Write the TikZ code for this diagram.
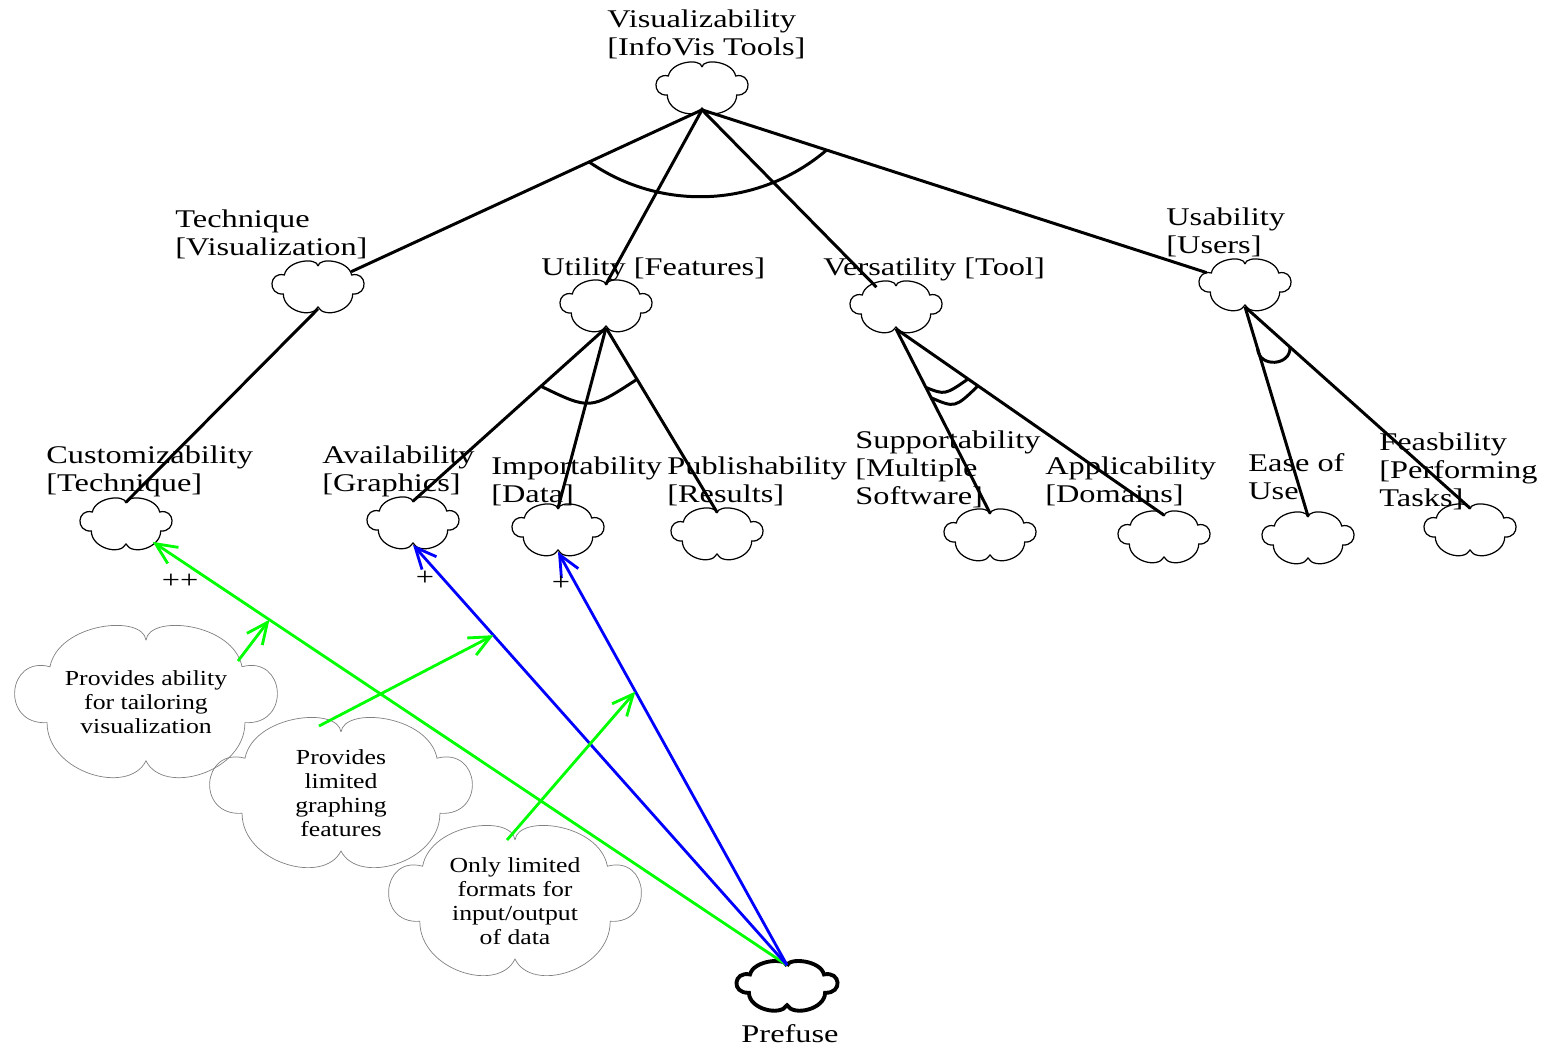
\documentclass[tikz,border=0pt]{standalone}
\usepackage{fontspec}
\setmainfont{Liberation Serif}[FakeStretch=1.2]
\newfontfamily\sglabelfont{Liberation Serif}[FakeStretch=1.27]
\usetikzlibrary{shapes.geometric,arrows.meta,calc}

\definecolor{helpgreen}{RGB}{0,255,0}
\definecolor{helpblue}{RGB}{0,0,255}

\tikzset{
  pics/cloudline/.style={code={
    \path[pic actions] (0,-21) .. controls (-1,-30) and (-30,-27) .. (-33,-12)
      .. controls (-48,-16) and (-50,8) .. (-34,7)
      .. controls (-34,24) and (-6,32) .. (0,20)
      .. controls (6,32) and (34,24) .. (34,7)
      .. controls (50,8) and (48,-16) .. (33,-12)
      .. controls (30,-27) and (1,-30) .. (0,-21);
  }},
  softgoal/.style={ellipse, minimum width=1.84cm, minimum height=0.86cm, inner sep=0pt},
  claim/.style={ellipse, align=center, minimum width=5.3cm, minimum height=2.5cm,
    inner sep=0pt, font=\fontsize{12.2}{13.6}\selectfont},
  sglabel/.style={anchor=north west, align=left, inner sep=0pt,
    font=\sglabelfont\fontsize{14.5}{16.2}\selectfont},
  decomp/.style={line width=1.7pt},
  helps/.style={line width=1.6pt, -{Straight Barb[length=12pt,width=11pt]}},
}

\begin{document}
\begin{tikzpicture}[x=0.02cm, y=-0.02cm]
\useasboundingbox (0,0) rectangle (1551,1046);

% softgoal tree
\node[softgoal] (vis) at (702,88) {};
\node[softgoal] (tech) at (318,287) {};
\node[softgoal] (util) at (606,306) {};
\node[softgoal] (vers) at (896,307) {};
\node[softgoal] (usab) at (1245,285) {};

\node[softgoal] (cust) at (126,524) {};
\node[softgoal] (avail) at (413,523) {};
\node[softgoal] (imp) at (558,530) {};
\node[softgoal] (pub) at (717,534) {};
\node[softgoal] (supp) at (990,535) {};
\node[softgoal] (appl) at (1164,537) {};
\node[softgoal] (ease) at (1308,538) {};
\node[softgoal] (feas) at (1470,530) {};

\node[softgoal, minimum width=2.06cm, minimum height=0.82cm] (prefuse) at (787,986) {};

\foreach \sg in {vis,tech,util,vers,usab,cust,avail,imp,pub,supp,appl,ease,feas}
  \pic[draw, line width=0.7pt, xscale=1.02] at (\sg) {cloudline};
\pic[draw, line width=2.2pt, xscale=1.12, yscale=0.96] at (prefuse) {cloudline};

% labels
\node[sglabel] at (607,9) {Visualizability\\{[InfoVis Tools]}};
\node[sglabel] at (175,209) {Technique\\{[Visualization]}};
\node[sglabel] at (541,257) {Utility [Features]};
\node[sglabel] at (823,257) {Versatility [Tool]};
\node[sglabel] at (1166,207) {Usability\\{[Users]}};
\node[sglabel] at (46,445) {Customizability\\{[Technique]}};
\node[sglabel] at (322,445) {Availability\\{[Graphics]}};
\node[sglabel] at (491,456) {Importability\\{[Data]}};
\node[sglabel] at (667,456) {Publishability\\{[Results]}};
\node[sglabel] at (855,430) {Supportability\\{[Multiple}\\Software]};
\node[sglabel] at (1045,456) {Applicability\\{[Domains]}};
\node[sglabel] at (1248,453) {Ease of\\Use};
\node[sglabel] at (1379,432) {Feasbility\\{[Performing}\\Tasks]};
\node[sglabel, anchor=north] (prefuselbl) at (790,1024) {Prefuse};

% decompositions
\draw[decomp] (vis.south) -- (tech);
\draw[decomp] (vis.south) -- (util.north);
\draw[decomp] (vis.south) -- (vers);
\draw[decomp] (vis.south) -- (usab);
\draw[decomp] (tech.south) -- (cust.north);
\draw[decomp] (util.south) -- (avail.north);
\draw[decomp] (util.south) -- (imp.north);
\draw[decomp] (util.south) -- (pub.north);
\draw[decomp] (vers.south) -- (supp.north);
\draw[decomp] (vers.south) -- (appl.north);
\draw[decomp] (usab.south) -- (ease.north);
\draw[decomp] (usab.south) -- (feas.north);

% and-arcs
\coordinate (v1) at ($(vis.south)!0.294!(tech)$);
\draw[decomp] (v1) arc[start angle=124.8, end angle=49.7, radius=194.6];
\coordinate (u1) at ($(util.south)!0.337!(avail.north)$);
\coordinate (u2) at ($(util.south)!0.279!(pub.north)$);
\draw[decomp] (u1) .. controls (590,410) .. (u2);
\coordinate (w1) at ($(vers.south)!0.318!(supp.north)$);
\coordinate (w2) at ($(vers.south)!0.269!(appl.north)$);
\draw[decomp] (w1) .. controls (945,395) .. (w2);
\coordinate (w3) at ($(vers.south)!0.374!(supp.north)$);
\coordinate (w4) at ($(vers.south)!0.306!(appl.north)$);
\draw[decomp] (w3) .. controls (955,408) .. (w4);
\coordinate (e1) at ($(usab.south)!0.201!(ease.north)$);
\coordinate (e2) at ($(usab.south)!0.2!(feas.north)$);
\draw[decomp] (e1) .. controls (1259,368) and (1291,366) .. (e2);

% contributions of Prefuse
\draw[helps, helpgreen] (prefuse.north) -- (cust);
\draw[helps, helpblue] (prefuse.north) -- (avail.south);
\draw[helps, helpblue] (prefuse.north) -- (imp.south);
\node (pp) at (180,581) {\sglabelfont\fontsize{14.5}{16.2}\selectfont ++};
\node (pa) at (425,578) {\sglabelfont\fontsize{14.5}{16.2}\selectfont +};
\node (pi) at (561,583) {\sglabelfont\fontsize{14.5}{16.2}\selectfont +};

% claims
\node[claim] (tailor) at (146,702) {Provides ability\\for tailoring\\visualization};
\node[claim] (graphing) at (341,793) {Provides\\limited\\graphing\\features};
\node[claim] (formats) at (515,901) {Only limited\\formats for\\input/output\\of data};
\pic[draw=gray, line width=0.4pt, xscale=2.91, yscale=2.94] at (tailor) {cloudline};
\pic[draw=gray, line width=0.4pt, xscale=2.91, yscale=2.9] at (graphing) {cloudline};
\pic[draw=gray, line width=0.4pt, xscale=2.8, yscale=2.9] at (formats) {cloudline};

\coordinate (c1) at ($(prefuse.north)!0.783!(cust)$);
\coordinate (c2) at ($(prefuse.north)!0.785!(avail.south)$);
\coordinate (c3) at ($(prefuse.north)!0.662!(imp.south)$);
\draw[helps, helpgreen] ([shift={(92,-41)}]tailor.center) -- (c1);
\draw[helps, helpgreen] ([shift={(-22,-67)}]graphing.center) -- (c2);
\draw[helps, helpgreen] ([shift={(-8,-61)}]formats.center) -- (c3);

\end{tikzpicture}
\end{document}
